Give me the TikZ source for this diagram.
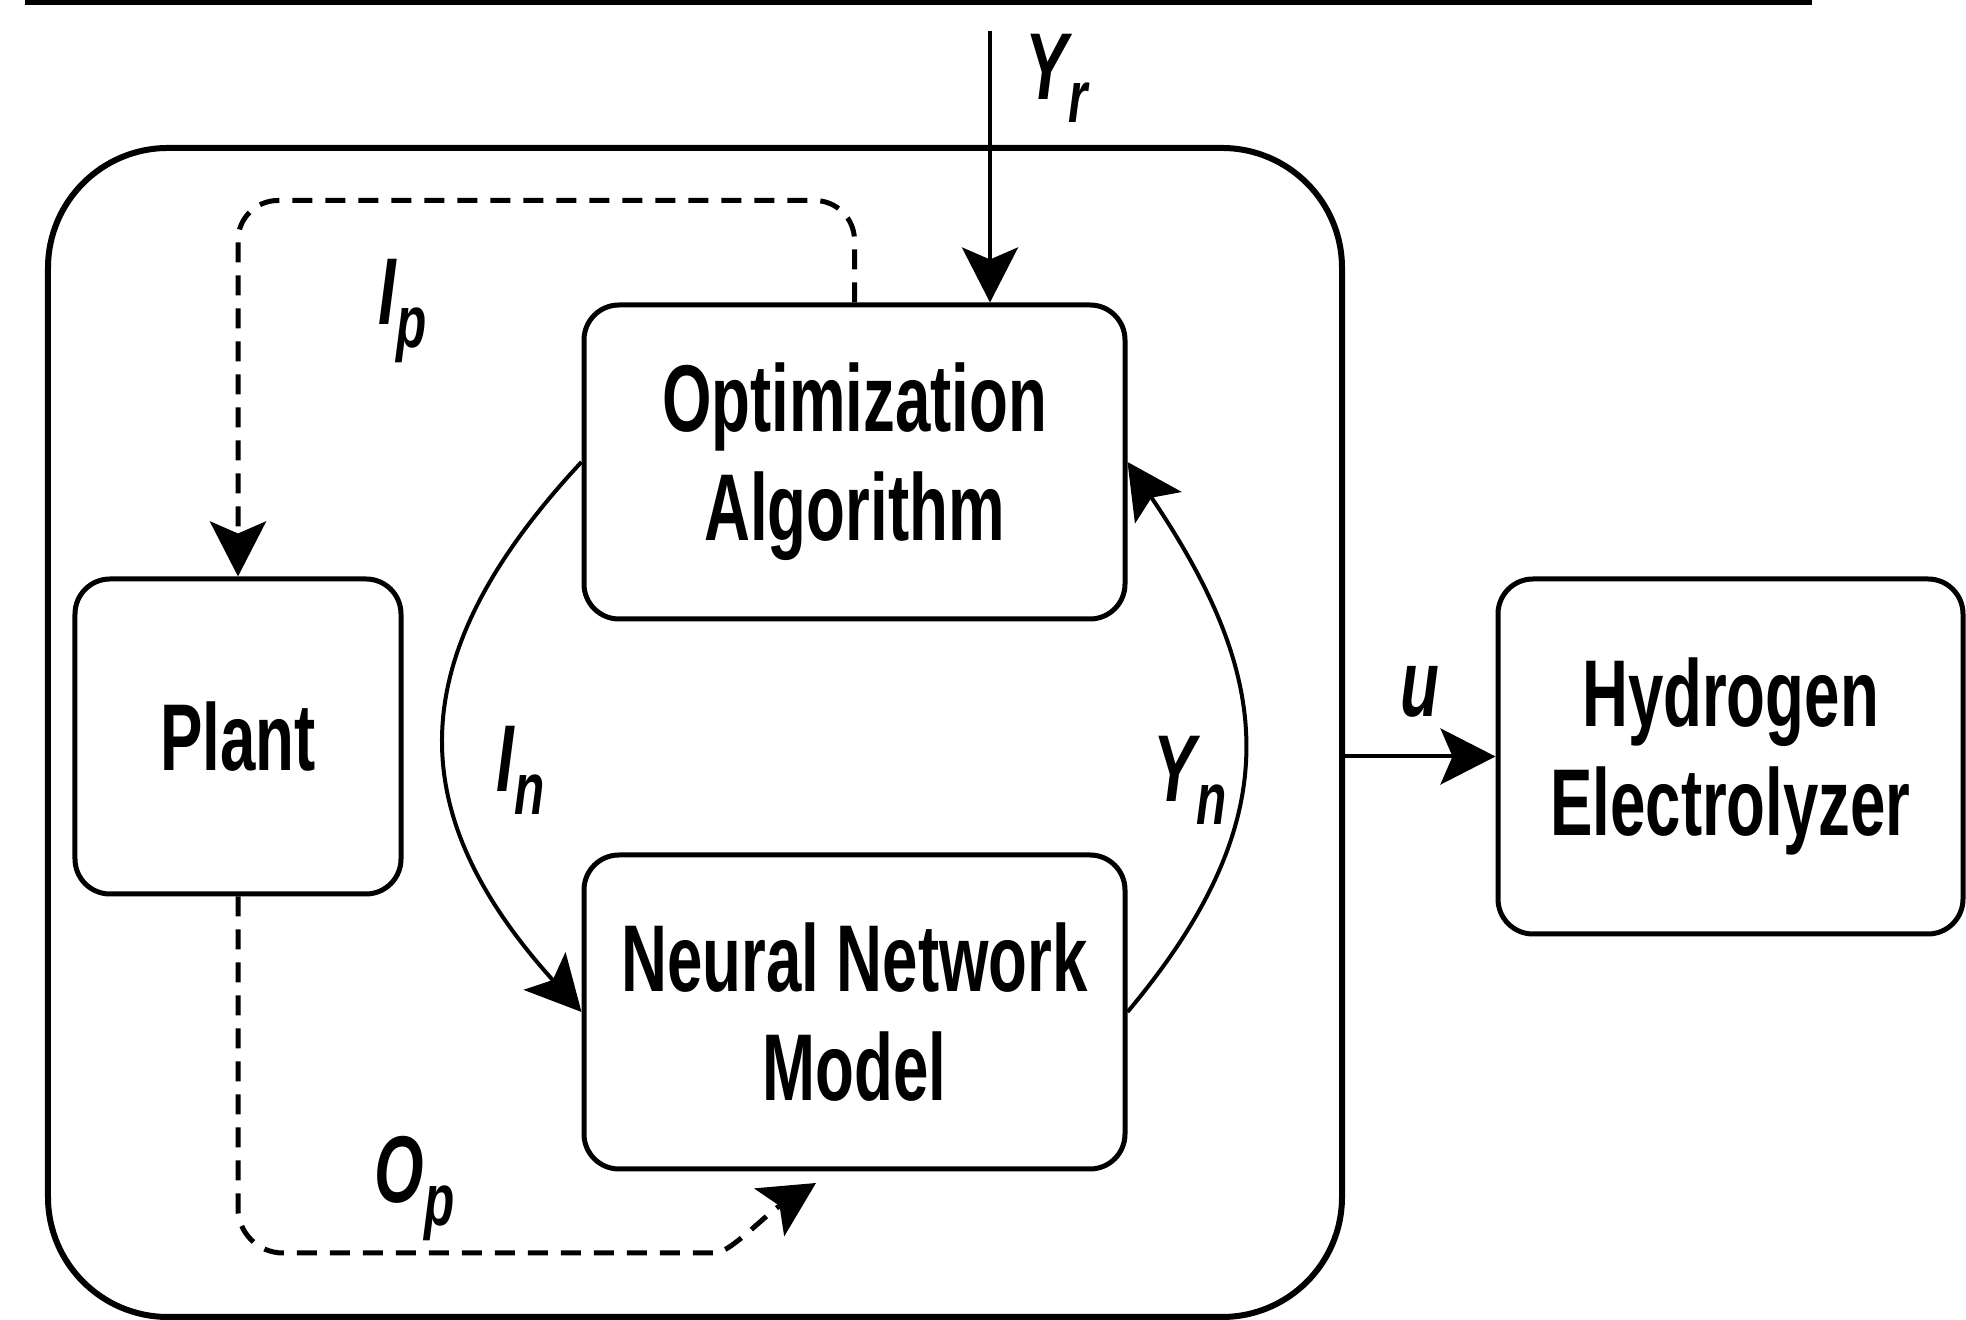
\documentclass[tikz,border=0pt]{standalone}
\usepackage{fontspec}
\newfontfamily\diafont[FakeStretch=0.67]{Liberation Sans}
\usetikzlibrary{arrows.meta}
\newcommand{\sigsub}[2]{#1\raisebox{-2.3mm}{\fontsize{21}{21}\selectfont #2}}
\tikzset{
 block/.style={draw,line width=.5mm,rounded corners=3.5mm,align=center,inner sep=0,font=\diafont\bfseries\fontsize{27}{31}\selectfont},
 frame/.style={draw,line width=.6mm,rounded corners=12mm,minimum width=129.4mm,minimum height=116.9mm},
 signal/.style={line width=.4mm},
 feedback/.style={line width=.5mm,dash pattern=on 2mm off 1.3mm},
 sigtag/.style={inner sep=0,anchor=base west,font=\diafont\bfseries\itshape\fontsize{27}{31}\selectfont},
 >={Stealth[length=5.5mm,width=5.6mm,inset=1.2mm]}
}
\begin{document}
\begin{tikzpicture}[x=1mm,y=1mm]
\path[use as bounding box] (0,0) rectangle (196.6,132);
\draw[line width=.55mm] (2.5,131.75) -- (181.2,131.75);
\node[frame] (ctrl) at (69.5,58.75) {};
\node[block,minimum width=54.1mm,minimum height=31.4mm] (opt) at (85.45,85.8) {\raisebox{-1mm}{Optimization}\\\raisebox{-1mm}{Algorithm}};
\node[block,minimum width=32.6mm,minimum height=31.5mm] (plant) at (23.8,58.35) {Plant};
\node[block,minimum width=54.1mm,minimum height=31.4mm] (nn) at (85.45,30.8) {Neural Network\\Model};
\node[block,minimum width=46.5mm,minimum height=35.5mm] (hyd) at (173.05,56.35) {\raisebox{-1.2mm}{Hydrogen}\\\raisebox{-1.2mm}{Electrolyzer}};
\coordinate (yrtop) at (99,128.9);
\coordinate (optip) at (81.6,13.7);
% signals
\draw[signal,->] (yrtop) -- (yrtop |- opt.north);
\draw[signal,->] (ctrl.east |- hyd.west) -- (hyd.west);
\draw[signal,->] (opt.west) to[out=227,in=132,looseness=1.25] (nn.west);
\draw[signal,->] (nn.east) to[out=50,in=304,looseness=1.2] (opt.east);
% plant loop
\draw[feedback,->,rounded corners=4mm] (opt.north) -- ++(0,10.2) -| (plant.north);
\draw[feedback,->,rounded corners=4.5mm] (plant.south) |- (67,6.7) .. controls (73,6.7) and (76.5,10.5) .. (optip);
% labels
\node[sigtag] (yrtag) at (102.5,122) {\sigsub{Y}{r}};
\node[sigtag] (iptag) at (37.8,99.5) {\sigsub{I}{p}};
\node[sigtag] (intag) at (49.6,52.8) {\sigsub{I}{n}};
\node[sigtag] (yntag) at (115.3,51.8) {\sigsub{Y}{n}};
\node[sigtag] (optag) at (37.4,11.7) {\sigsub{O}{p}};
\node[sigtag] (utag) at (140,60.3) {u};
\end{tikzpicture}
\end{document}
